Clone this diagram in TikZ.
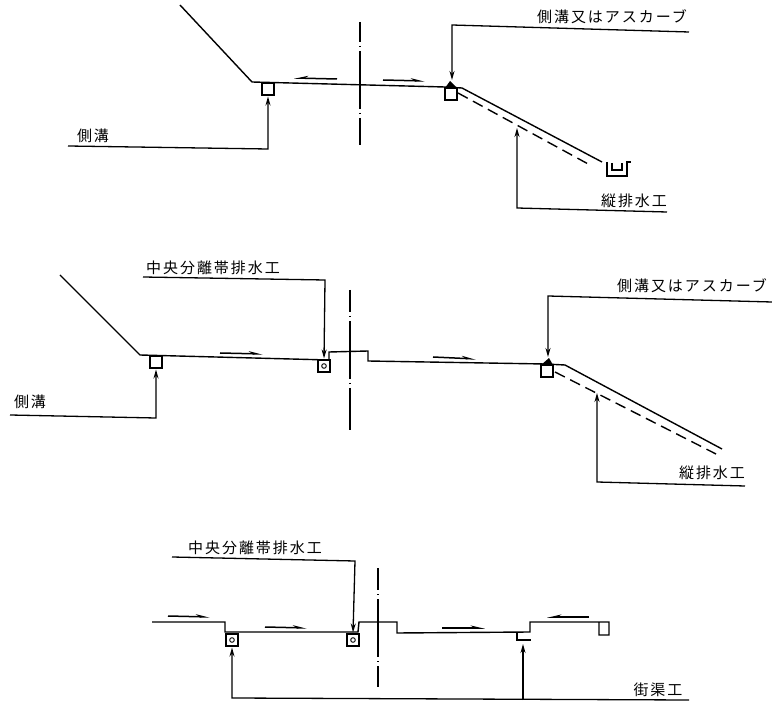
\documentclass[tikz,border=0pt]{standalone}
\usepackage{fontspec}
\newfontfamily\cjk[LetterSpace=13]{Noto Sans CJK JP}
\usetikzlibrary{arrows.meta}
\tikzset{
	road/.style = {line width = 1.4pt, line join = miter},
	leader/.style = {line width = 1.3pt, shorten > = 1pt, -{Stealth[length = 9pt, width = 5pt]}},
	flow/.style = {line width = 1.5pt, -{Stealth[harpoon, length = 11pt, width = 5pt]}},
	flowback/.style = {line width = 1.5pt, -{Stealth[harpoon, swap, length = 11pt, width = 5pt]}},
	centerline/.style = {line width = 1.2pt, dash pattern = on 58pt off 4pt on 1pt off 4pt},
	seepage/.style = {line width = 1.4pt, dash pattern = on 11pt off 6pt},
	ditch/.style = {draw, line width = 1.1pt, fill = white, inner sep = 0pt, minimum size = 12pt},
	inlet/.style = {ditch, path picture = {\draw[line width = .9pt] (path picture bounding box.center) circle (2.3);}},
	lbl/.style = {font = \fontsize{15}{16}\selectfont\cjk, inner sep = 0pt}
}
\begin{document}
\begin{tikzpicture}[x = 1pt, y = -1pt]
	\useasboundingbox (0,0) rectangle (772,703);
	% upper section
	\draw[road] (180,5)--(252,82)--(445,87)--(462,88)--(602,162); %slope and carriageway
	\draw[seepage] (458,93)--(590,165);
	\draw[road] (607,162)--(607,176)--(627,176)--(627,162)--(631,162); %chute
	\draw[road] (612,163)--(612,170)--(622,170)--(622,163);
	\draw[centerline, dash phase = 38pt] (360,22)--(360,145);
	\draw[flowback] (337,79)--(294,78);
	\draw[flow] (383,80)--(425,81);
	\node[ditch] (ditchA) at (268,89) {};
	\node[ditch] (ditchB) at (451,94) {};
	\fill (445,88)--(450,81)--(457,88)--cycle;
	\node[lbl] (sideA) at (93,136) {側溝};
	\node[lbl] (curbA) at (612,17) {側溝又はアスカーブ};
	\node[lbl] (chuteA) at (634,201) {縦排水工};
	\coordinate (sideAend) at (68,146);
	\coordinate (curbAend) at (689,32);
	\coordinate (chuteAend) at (667,212);
	\coordinate (curbAcorner) at (452,25);
	\coordinate (chuteAcorner) at (517,208);
	\coordinate (chuteAtip) at (517,127);
	\draw[leader] (sideAend)--(268,149)--(ditchA.south);
	\draw[leader] (curbAend)--(curbAcorner)--(452,81);
	\draw[leader] (chuteAend)--(chuteAcorner)--(chuteAtip);
	% middle section
	\draw[road] (60,275)--(140,355)--(329,360)--(329,352)--(368,351)--(368,361)--(545,364)--(565,365)--(722,449);
	\draw[seepage] (555,372)--(716,454);
	\draw[centerline, dash phase = 36pt] (350,290)--(350,430);
	\draw[flow] (220,353)--(263,354);
	\draw[flow] (433,357)--(476,359);
	\node[ditch] (ditchC) at (156,362) {};
	\node[inlet] (inletC) at (324,366) {};
	\node[ditch] (ditchD) at (547,371) {};
	\fill (541,365)--(549,358)--(553,365)--cycle;
	\node[lbl] (sideB) at (30,402) {側溝};
	\node[lbl] (medianB) at (213,268) {中央分離帯排水工};
	\node[lbl] (curbB) at (692,286) {側溝又はアスカーブ};
	\node[lbl] (chuteB) at (712,473) {縦排水工};
	\coordinate (sideBend) at (10,415);
	\coordinate (medianBend) at (143,277);
	\coordinate (curbBend) at (772,302);
	\coordinate (chuteBend) at (745,486);
	\coordinate (curbBcorner) at (548,296);
	\coordinate (chuteBcorner) at (597,482);
	\coordinate (chuteBtip) at (597,392);
	\draw[leader] (sideBend)--(156,418)--(ditchC.south);
	\draw[leader] (medianBend)--(325,280)--(inletC.north);
	\draw[leader] (curbBend)--(curbBcorner)--(548,358);
	\draw[leader] (chuteBend)--(chuteBcorner)--(chuteBtip);
	% lower section
	\draw[road] (152,622)--(225,622)--(225,632)--(358,632)--(359,622)--(397,622)--(397,633)--(530,632)--(530,622)--(609,622)--(609,635)--(599,635)--(599,622);
	\draw[road] (517,632)--(517,640)--(531,640); %curb gutter
	\draw[centerline, dash phase = 36pt] (378,568)--(378,687);
	\draw[flow] (168,616)--(210,617);
	\draw[flow] (265,627)--(307,628);
	\draw[flow] (442,628)--(485,628);
	\draw[flowback] (589,617)--(547,617);
	\node[inlet] (inletD) at (232,640) {};
	\node[inlet] (inletE) at (353,640) {};
	\coordinate (gutter) at (523,643);
	\node[lbl] (medianC) at (255,548) {中央分離帯排水工};
	\node[lbl] (gutterC) at (658,690) {街渠工};
	\coordinate (medianCend) at (172,557);
	\coordinate (gutterCend) at (689,700);
	\coordinate (gutterCcorner) at (232,698);
	\coordinate (gutterCjoin) at (523,700);
	\draw[leader] (medianCend)--(355,561)--(inletE.north);
	\draw[leader] (gutterCend)--(gutterCcorner)--(inletD.south);
	\draw[leader] (gutterCjoin)--(gutter);
\end{tikzpicture}
\end{document}
